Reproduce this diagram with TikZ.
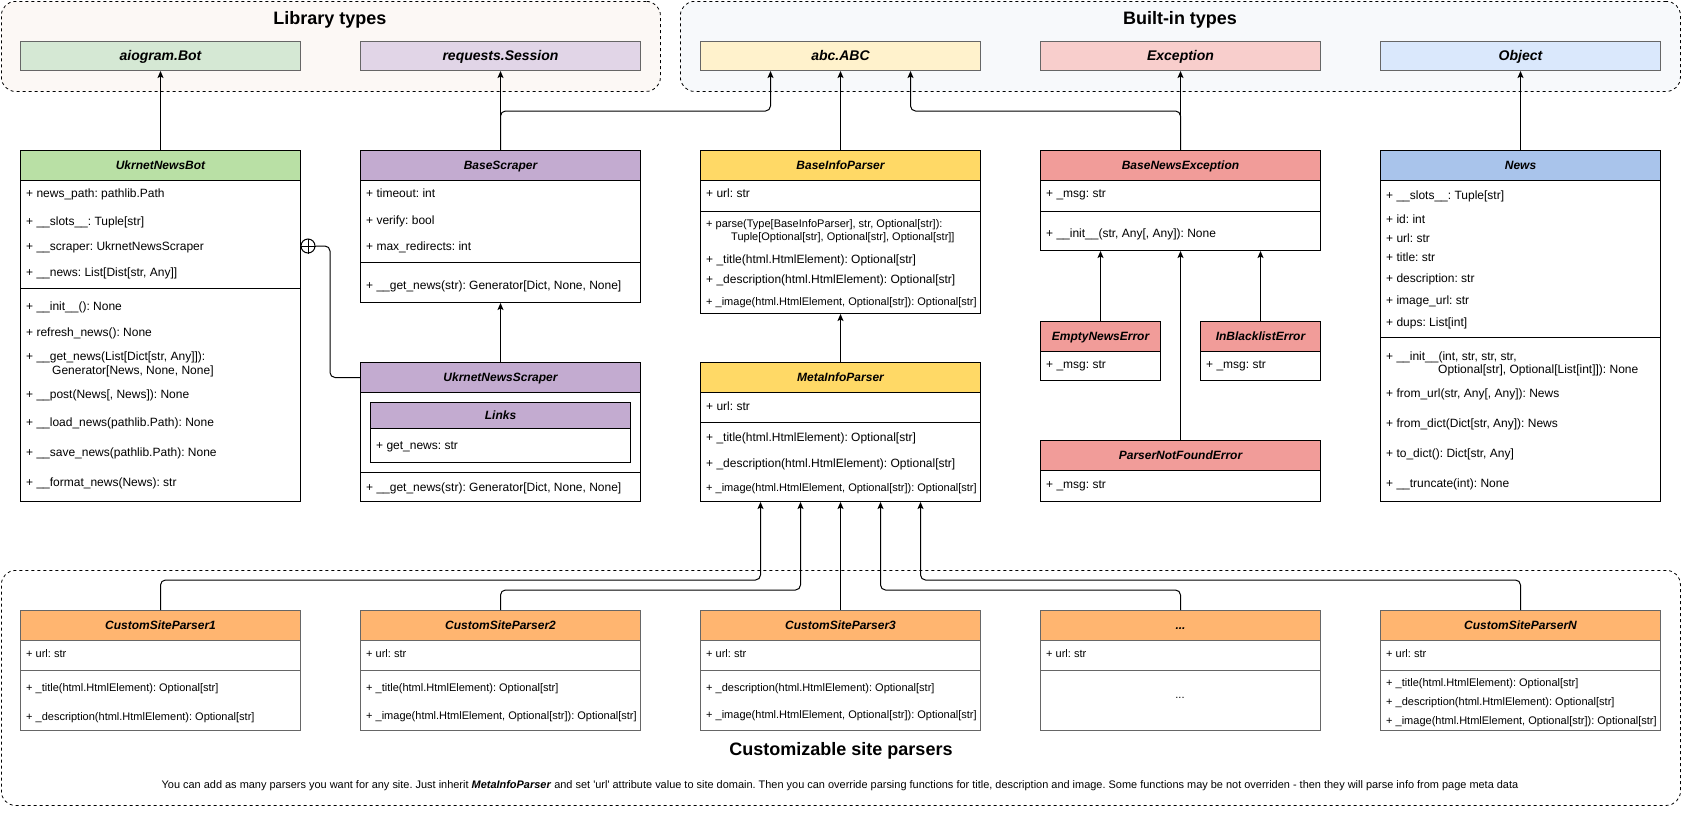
\documentclass[tikz,border=0pt]{standalone}
\usepackage{fontspec}
\setmainfont{Liberation Sans}
\usetikzlibrary{arrows.meta}

\definecolor{libbg}{HTML}{FCF8F5}
\definecolor{bibg}{HTML}{F7F9FB}
\definecolor{tGreen}{HTML}{D5E8D4}
\definecolor{tPurple}{HTML}{E1D5E7}
\definecolor{tYellow}{HTML}{FFF2CC}
\definecolor{tRed}{HTML}{F8CECC}
\definecolor{tBlue}{HTML}{DAE8FC}
\definecolor{hGreen}{HTML}{B9E0A5}
\definecolor{hPurple}{HTML}{C3ABD0}
\definecolor{hYellow}{HTML}{FFD966}
\definecolor{hRed}{HTML}{F19C99}
\definecolor{hBlue}{HTML}{A9C4EB}
\definecolor{hOrange}{HTML}{FFB570}
\definecolor{edgegray}{HTML}{666666}

\begin{document}
\frenchspacing
\begin{tikzpicture}[x=1pt,y=-1pt,
  grp/.style={draw=black, line width=0.8pt, dash pattern=on 3pt off 3pt, rounded corners=14pt, anchor=north west, inner sep=0pt},
  grptitle/.style={inner sep=0pt, font=\fontsize{18}{20}\selectfont\bfseries},
  typebox/.style={draw=edgegray, line width=1pt, anchor=north west, minimum width=280pt, minimum height=29pt, inner sep=0pt, font=\fontsize{14}{16}\selectfont\bfseries\itshape, text height=10pt, text depth=0.3pt},
  cls/.style={draw=black, line width=1pt, fill=white, anchor=north west, inner sep=0pt, minimum width=280pt},
  hdr/.style={draw=black, line width=1pt, anchor=north west, inner sep=0pt, minimum width=280pt, minimum height=30pt, font=\fontsize{12}{14}\selectfont\bfseries\itshape, text height=8.6pt, text depth=0.3pt},
  mem/.style={anchor=base west, inner sep=0pt, yshift=-4.2pt, font=\fontsize{12}{14}\selectfont},
  memsm/.style={anchor=base west, inner sep=0pt, yshift=-3.9pt, font=\fontsize{11}{13}\selectfont},
  div/.style={line width=1pt},
  inh/.style={-{Stealth[length=7pt,width=6pt,inset=1.5pt]}, line width=1pt, rounded corners=5pt},
]
\useasboundingbox (0,0) rectangle (1682,812);

% ---------- groups ----------
\node[grp, fill=libbg, minimum width=659pt, minimum height=90pt] (libgrp) at (1,1) {};
\node[grptitle] (libttl) at (330,20) {Library types};
\node[grp, fill=bibg, minimum width=1000pt, minimum height=90pt] (bigrp) at (680,1) {};
\node[grptitle] (bittl) at (1180,20) {Built-in types};
\node[grp, fill=white, minimum width=1679pt, minimum height=235pt] (sitegrp) at (1,570) {};

% ---------- external types ----------
\node[typebox, fill=tGreen]  (aiogram) at (20,41)   {aiogram.Bot};
\node[typebox, fill=tPurple] (session) at (360,41)  {requests.Session};
\node[typebox, fill=tYellow] (abc)     at (700,41)  {abc.ABC};
\node[typebox, fill=tRed]    (exc)     at (1040,41) {Exception};
\node[typebox, fill=tBlue]   (object)  at (1380,41) {Object};

% ---------- UkrnetNewsBot ----------
\node[cls, minimum height=351pt] (bot) at (20,150) {};
\node[hdr, fill=hGreen] (botH) at (20,150) {UkrnetNewsBot};
\node[mem] (bot1) at (26,193) {+ news\_path: pathlib.Path};
\node[mem] (bot2) at (26,221) {+ \_\_slots\_\_: Tuple[str]};
\node[mem] (bot3) at (26,246) {+ \_\_scraper: UkrnetNewsScraper};
\node[mem] (bot4) at (26,272) {+ \_\_news: List[Dist[str, Any]]};
\draw[div] (20,288) -- +(280,0);
\node[mem] (bot5) at (26,306) {+ \_\_init\_\_(): None};
\node[mem] (bot6) at (26,332) {+ refresh\_news(): None};
\node[mem] (bot7) at (26,356) {+ \_\_get\_news(List[Dict[str, Any]]):};
\node[mem] (bot7b) at (52,370) {Generator[News, None, None]};
\node[mem] (bot8) at (26,394) {+ \_\_post(News[, News]): None};
\node[mem] (bot9) at (26,422) {+ \_\_load\_news(pathlib.Path): None};
\node[mem] (bot10) at (26,452) {+ \_\_save\_news(pathlib.Path): None};
\node[mem] (bot11) at (26,482) {+ \_\_format\_news(News): str};

% ---------- BaseScraper ----------
\node[cls, minimum height=152pt] (bscr) at (360,150) {};
\node[hdr, fill=hPurple] (bscrH) at (360,150) {BaseScraper};
\node[mem] (bscr1) at (366,193) {+ timeout: int};
\node[mem] (bscr2) at (366,220) {+ verify: bool};
\node[mem] (bscr3) at (366,246) {+ max\_redirects: int};
\draw[div] (360,262) -- +(280,0);
\node[mem] (bscr4) at (366,285) {+ \_\_get\_news(str): Generator[Dict, None, None]};

% ---------- UkrnetNewsScraper ----------
\node[cls, minimum height=139pt] (scr) at (360,362) {};
\node[hdr, fill=hPurple] (scrH) at (360,362) {UkrnetNewsScraper};
\node[cls, minimum width=260pt, minimum height=60pt] (links) at (370,402) {};
\node[hdr, fill=hPurple, minimum width=260pt, minimum height=26pt] (linksH) at (370,402) {Links};
\node[mem] (links1) at (376,445) {+ get\_news: str};
\draw[div] (360,472) -- +(280,0);
\node[mem] (scr1) at (366,487) {+ \_\_get\_news(str): Generator[Dict, None, None]};

% ---------- BaseInfoParser ----------
\node[cls, minimum height=163pt] (bip) at (700,150) {};
\node[hdr, fill=hYellow] (bipH) at (700,150) {BaseInfoParser};
\node[mem] (bip1) at (706,193) {+ url: str};
\draw[div] (700,211) -- +(280,0);
\node[memsm] (bip2) at (706,224) {+ parse(Type[BaseInfoParser], str, Optional[str]):};
\node[memsm] (bip2b) at (731,237) {Tuple[Optional[str], Optional[str], Optional[str]]};
\node[mem] (bip3) at (706,259) {+ \_title(html.HtmlElement): Optional[str]};
\node[mem] (bip4) at (706,279) {+ \_description(html.HtmlElement): Optional[str]};
\node[memsm] (bip5) at (706,302) {+ \_image(html.HtmlElement, Optional[str]): Optional[str]};

% ---------- MetaInfoParser ----------
\node[cls, minimum height=139pt] (meta) at (700,362) {};
\node[hdr, fill=hYellow] (metaH) at (700,362) {MetaInfoParser};
\node[mem] (meta1) at (706,406) {+ url: str};
\draw[div] (700,422) -- +(280,0);
\node[mem] (meta2) at (706,437) {+ \_title(html.HtmlElement): Optional[str]};
\node[mem] (meta3) at (706,463) {+ \_description(html.HtmlElement): Optional[str]};
\node[memsm] (meta4) at (706,488) {+ \_image(html.HtmlElement, Optional[str]): Optional[str]};

% ---------- exceptions ----------
\node[cls, minimum height=100pt] (bne) at (1040,150) {};
\node[hdr, fill=hRed] (bneH) at (1040,150) {BaseNewsException};
\node[mem] (bne1) at (1046,193) {+ \_msg: str};
\draw[div] (1040,211) -- +(280,0);
\node[mem] (bne2) at (1046,233) {+ \_\_init\_\_(str, Any[, Any]): None};

\node[cls, minimum width=120pt, minimum height=59pt] (empty) at (1040,321) {};
\node[hdr, fill=hRed, minimum width=120pt] (emptyH) at (1040,321) {EmptyNewsError};
\node[mem] (empty1) at (1046,364) {+ \_msg: str};

\node[cls, minimum width=120pt, minimum height=59pt] (inbl) at (1200,321) {};
\node[hdr, fill=hRed, minimum width=120pt] (inblH) at (1200,321) {InBlacklistError};
\node[mem] (inbl1) at (1206,364) {+ \_msg: str};

\node[cls, minimum height=61pt] (pnf) at (1040,440) {};
\node[hdr, fill=hRed] (pnfH) at (1040,440) {ParserNotFoundError};
\node[mem] (pnf1) at (1046,484) {+ \_msg: str};

% ---------- News ----------
\node[cls, minimum height=351pt] (news) at (1380,150) {};
\node[hdr, fill=hBlue] (newsH) at (1380,150) {News};
\node[mem] (news1) at (1386,195) {+ \_\_slots\_\_: Tuple[str]};
\node[mem] (news2) at (1386,219) {+ id: int};
\node[mem] (news3) at (1386,238) {+ url: str};
\node[mem] (news4) at (1386,257) {+ title: str};
\node[mem] (news5) at (1386,278) {+ description: str};
\node[mem] (news6) at (1386,300) {+ image\_url: str};
\node[mem] (news7) at (1386,322) {+ dups: List[int]};
\draw[div] (1380,337) -- +(280,0);
\node[mem] (news8) at (1386,356) {+ \_\_init\_\_(int, str, str, str,};
\node[mem] (news8b) at (1438,369) {Optional[str], Optional[List[int]]): None};
\node[mem] (news9) at (1386,393) {+ from\_url(str, Any[, Any]): News};
\node[mem] (news10) at (1386,423) {+ from\_dict(Dict[str, Any]): News};
\node[mem] (news11) at (1386,453) {+ to\_dict(): Dict[str, Any]};
\node[mem] (news12) at (1386,483) {+ \_\_truncate(int): None};

% ---------- site parsers ----------
\begin{scope}[cls/.append style={draw=edgegray, minimum height=120pt}, hdr/.append style={draw=edgegray}]
\node[cls] (csp1) at (20,610) {};
\node[hdr, fill=hOrange] (csp1H) at (20,610) {CustomSiteParser1};
\node[memsm] (csp1a) at (26,654) {+ url: str};
\draw[div, edgegray] (20,670) -- +(280,0);
\node[memsm] (csp1b) at (26,688) {+ \_title(html.HtmlElement): Optional[str]};
\node[memsm] (csp1c) at (26,717) {+ \_description(html.HtmlElement): Optional[str]};

\node[cls] (csp2) at (360,610) {};
\node[hdr, fill=hOrange] (csp2H) at (360,610) {CustomSiteParser2};
\node[memsm] (csp2a) at (366,654) {+ url: str};
\draw[div, edgegray] (360,670) -- +(280,0);
\node[memsm] (csp2b) at (366,688) {+ \_title(html.HtmlElement): Optional[str]};
\node[memsm] (csp2c) at (366,716) {+ \_image(html.HtmlElement, Optional[str]): Optional[str]};

\node[cls] (csp3) at (700,610) {};
\node[hdr, fill=hOrange] (csp3H) at (700,610) {CustomSiteParser3};
\node[memsm] (csp3a) at (706,654) {+ url: str};
\draw[div, edgegray] (700,670) -- +(280,0);
\node[memsm] (csp3b) at (706,688) {+ \_description(html.HtmlElement): Optional[str]};
\node[memsm] (csp3c) at (706,715) {+ \_image(html.HtmlElement, Optional[str]): Optional[str]};

\node[cls] (cspx) at (1040,610) {};
\node[hdr, fill=hOrange] (cspxH) at (1040,610) {...};
\node[memsm] (cspxa) at (1046,654) {+ url: str};
\draw[div, edgegray] (1040,670) -- +(280,0);
\node[inner sep=0pt, font=\fontsize{11}{13}\selectfont] (cspxb) at (1180,698) {...};

\node[cls] (cspn) at (1380,610) {};
\node[hdr, fill=hOrange] (cspnH) at (1380,610) {CustomSiteParserN};
\node[memsm] (cspna) at (1386,654) {+ url: str};
\draw[div, edgegray] (1380,670) -- +(280,0);
\node[memsm] (cspnb) at (1386,683) {+ \_title(html.HtmlElement): Optional[str]};
\node[memsm] (cspnc) at (1386,702) {+ \_description(html.HtmlElement): Optional[str]};
\node[memsm] (cspnd) at (1386,721) {+ \_image(html.HtmlElement, Optional[str]): Optional[str]};
\end{scope}

\node[inner sep=0pt, font=\fontsize{18}{20}\selectfont\bfseries] (sitettl) at (841,751) {Customizable site parsers};
\node[inner sep=0pt, font=\fontsize{10.95}{12}\selectfont] (sitenote) at (840,786) {You can add as many parsers you want for any site. Just inherit \textbf{\textit{MetaInfoParser}} and set \textquotesingle url\textquotesingle{} attribute value to site domain. Then you can override parsing functions for title, description and image. Some functions may be not overriden - then they will parse info from page meta data};

% ---------- connector end points ----------
\coordinate (abcL) at ([xshift=-70pt]abc.south);
\coordinate (abcR) at ([xshift=70pt]abc.south);
\coordinate (bneL) at ([xshift=-80pt]bne.south);
\coordinate (bneR) at ([xshift=80pt]bne.south);
\coordinate (mIn1) at ([xshift=-80pt]meta.south);
\coordinate (mIn2) at ([xshift=-40pt]meta.south);
\coordinate (mIn4) at ([xshift=40pt]meta.south);
\coordinate (mIn5) at ([xshift=80pt]meta.south);

% ---------- inheritance ----------
\draw[inh] (bot.north) -- (aiogram.south);
\draw[inh] (bscr.north) -- (session.south);
\draw[inh] (bscr.north) |- (abcL |- 0,111) -- (abcL);
\draw[inh] (bip.north) -- (abc.south);
\draw[inh] (bne.north) -- (exc.south);
\draw[inh] (bne.north) |- (abcR |- 0,111) -- (abcR);
\draw[inh] (news.north) -- (object.south);
\draw[inh] (scr.north) -- (bscr.south);
\draw[inh] (meta.north) -- (bip.south);
\draw[inh] (empty.north) -- (bneL);
\draw[inh] (inbl.north) -- (bneR);
\draw[inh] (pnf.north) -- (bne.south);

\draw[inh] (csp1.north) |- (mIn1 |- 0,580) -- (mIn1);
\draw[inh] (csp2.north) |- (mIn2 |- 0,590) -- (mIn2);
\draw[inh] (csp3.north) -- (meta.south);
\draw[inh] (cspx.north) |- (mIn4 |- 0,590) -- (mIn4);
\draw[inh] (cspn.north) |- (mIn5 |- 0,580) -- (mIn5);

% ---------- nesting (inner class) ----------
\node[circle, draw, line width=1pt, fill=white, minimum size=14pt, inner sep=0pt] (nest) at (308,246) {};
\draw[line width=1pt] (nest.west) -- (nest.east) (nest.north) -- (nest.south);
\draw[line width=1pt, rounded corners=5pt] (nest.east) -| ([xshift=-30pt]scrH.west) -- (scrH.west);
\end{tikzpicture}
\end{document}
